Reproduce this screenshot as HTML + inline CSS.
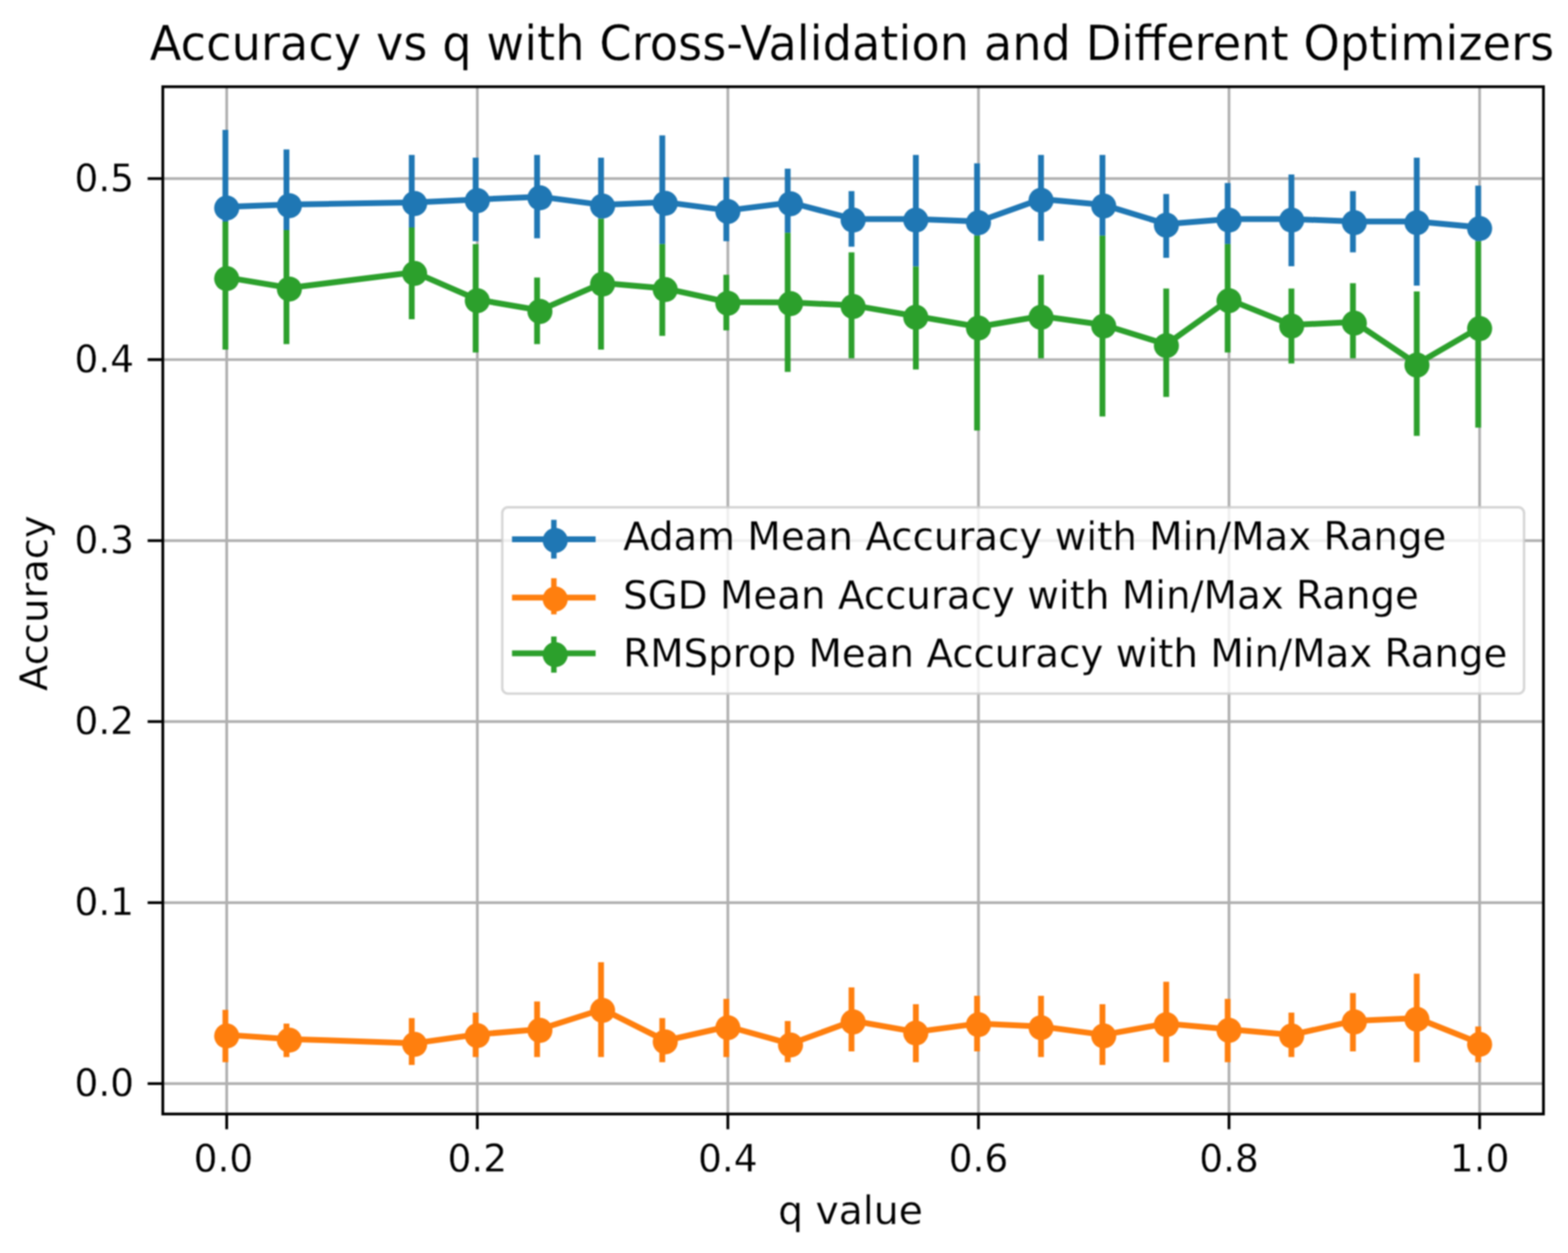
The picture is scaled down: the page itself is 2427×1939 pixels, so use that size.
<!DOCTYPE html>
<html><head><meta charset="utf-8"><title>Accuracy vs q with Cross-Validation and Different Optimizers</title>
<style>html,body{margin:0;padding:0;background:#fff;}svg{display:block;filter:blur(0.8px);}text{font-family:"DejaVu Sans","Liberation Sans",sans-serif;fill:#000;stroke:#fff;stroke-width:0.3px;paint-order:fill;}</style></head><body>
<svg width="2427" height="1939" viewBox="0 0 2427 1939">
<rect x="0" y="0" width="2427" height="1939" fill="#ffffff"/>
<path d="M350.9 134.2V1723.9M738.8 134.2V1723.9M1126.6 134.2V1723.9M1514.5 134.2V1723.9M1902.3 134.2V1723.9M2290.2 134.2V1723.9M252.0 1676.9H2389.0M252.0 1396.8H2389.0M252.0 1116.7H2389.0M252.0 836.6H2389.0M252.0 556.5H2389.0M252.0 276.4H2389.0" stroke="#b0b0b0" stroke-width="4.2" fill="none"/>
<path d="M348.9 201.1V343.0M443.4 231.3V356.0M637.3 239.8V352.1M736.2 244.0V373.3M831.3 239.8V368.7M930.3 244.0V338.5M1025.1 209.6V377.8M1124.2 274.2V373.3M1219.2 260.9V360.3M1318.0 295.7V381.7M1417.6 239.8V412.5M1512.3 252.8V364.8M1611.3 239.8V372.7M1706.4 239.8V364.8M1805.1 300.2V398.9M1900.2 283.3V377.8M1998.9 270.0V411.9M2094.1 295.7V390.5M2192.9 244.0V442.1M2288.0 287.2V373.3" stroke="#1f77b4" stroke-width="9.0" fill="none" stroke-linecap="butt"/>
<path d="M348.9 1562.7V1643.8M443.4 1584.1V1635.7M637.3 1575.6V1648.0M736.2 1566.9V1635.7M831.3 1549.7V1635.7M930.3 1489.0V1635.7M1025.1 1575.6V1643.8M1124.2 1545.8V1635.7M1219.2 1579.9V1643.8M1318.0 1527.9V1627.0M1417.6 1553.9V1643.8M1512.3 1540.9V1627.0M1611.3 1540.9V1635.7M1706.4 1553.9V1648.0M1805.1 1519.2V1643.8M1900.2 1545.8V1643.8M1998.9 1566.9V1635.7M2094.1 1536.7V1627.0M2192.9 1506.8V1643.8M2288.0 1588.6V1643.8" stroke="#ff7f0e" stroke-width="9.0" fill="none" stroke-linecap="butt"/>
<path d="M348.9 343.0V540.9M443.4 356.0V532.4M637.3 352.1V494.0M736.2 377.8V545.4M831.3 429.4V532.4M930.3 338.5V540.9M1025.1 377.8V519.7M1124.2 425.2V511.3M1219.2 360.3V575.6M1318.0 390.5V554.5M1417.6 412.5V571.7M1512.3 364.8V666.2M1611.3 425.2V554.5M1706.4 364.8V644.4M1805.1 446.6V614.3M1900.2 377.8V545.4M1998.9 446.6V562.6M2094.1 438.2V554.5M2192.9 450.9V674.6M2288.0 373.3V661.7" stroke="#2ca02c" stroke-width="9.0" fill="none" stroke-linecap="butt"/>
<polyline points="350.9,320.1 447.9,316.5 641.8,313.2 738.8,308.7 835.7,304.4 932.7,317.1 1029.7,312.9 1126.6,325.6 1223.6,313.5 1320.5,338.9 1417.5,338.9 1514.5,342.8 1611.4,308.1 1708.4,317.1 1805.4,346.7 1902.3,338.9 1999.3,338.9 2096.3,342.8 2193.2,342.8 2290.2,351.8" stroke="#1f77b4" stroke-width="9.0" fill="none" stroke-linejoin="round" stroke-linecap="square"/>
<g fill="#1f77b4"><circle cx="350.9" cy="321.9" r="19.4"/><circle cx="447.9" cy="318.3" r="19.4"/><circle cx="641.8" cy="315.0" r="19.4"/><circle cx="738.8" cy="310.5" r="19.4"/><circle cx="835.7" cy="306.2" r="19.4"/><circle cx="932.7" cy="318.9" r="19.4"/><circle cx="1029.7" cy="314.7" r="19.4"/><circle cx="1126.6" cy="327.4" r="19.4"/><circle cx="1223.6" cy="315.3" r="19.4"/><circle cx="1320.5" cy="340.7" r="19.4"/><circle cx="1417.5" cy="340.7" r="19.4"/><circle cx="1514.5" cy="344.6" r="19.4"/><circle cx="1611.4" cy="309.9" r="19.4"/><circle cx="1708.4" cy="318.9" r="19.4"/><circle cx="1805.4" cy="348.5" r="19.4"/><circle cx="1902.3" cy="340.7" r="19.4"/><circle cx="1999.3" cy="340.7" r="19.4"/><circle cx="2096.3" cy="344.6" r="19.4"/><circle cx="2193.2" cy="344.6" r="19.4"/><circle cx="2290.2" cy="353.6" r="19.4"/></g>
<polyline points="350.9,1601.4 447.9,1607.9 641.8,1614.4 738.8,1600.8 835.7,1592.7 932.7,1561.8 1029.7,1610.5 1126.6,1588.5 1223.6,1615.4 1320.5,1579.7 1417.5,1596.9 1514.5,1583.9 1611.4,1588.5 1708.4,1601.4 1805.4,1583.9 1902.3,1592.7 1999.3,1601.4 2096.3,1579.7 2193.2,1575.5 2290.2,1614.4" stroke="#ff7f0e" stroke-width="9.0" fill="none" stroke-linejoin="round" stroke-linecap="square"/>
<g fill="#ff7f0e"><circle cx="350.9" cy="1603.2" r="19.4"/><circle cx="447.9" cy="1609.7" r="19.4"/><circle cx="641.8" cy="1616.2" r="19.4"/><circle cx="738.8" cy="1602.6" r="19.4"/><circle cx="835.7" cy="1594.5" r="19.4"/><circle cx="932.7" cy="1563.6" r="19.4"/><circle cx="1029.7" cy="1612.3" r="19.4"/><circle cx="1126.6" cy="1590.3" r="19.4"/><circle cx="1223.6" cy="1617.2" r="19.4"/><circle cx="1320.5" cy="1581.5" r="19.4"/><circle cx="1417.5" cy="1598.7" r="19.4"/><circle cx="1514.5" cy="1585.7" r="19.4"/><circle cx="1611.4" cy="1590.3" r="19.4"/><circle cx="1708.4" cy="1603.2" r="19.4"/><circle cx="1805.4" cy="1585.7" r="19.4"/><circle cx="1902.3" cy="1594.5" r="19.4"/><circle cx="1999.3" cy="1603.2" r="19.4"/><circle cx="2096.3" cy="1581.5" r="19.4"/><circle cx="2193.2" cy="1577.3" r="19.4"/><circle cx="2290.2" cy="1616.2" r="19.4"/></g>
<polyline points="350.9,429.4 447.9,445.5 641.8,421.3 738.8,463.6 835.7,480.2 932.7,437.9 1029.7,446.4 1126.6,467.5 1223.6,468.1 1320.5,472.6 1417.5,489.2 1514.5,505.8 1611.4,489.2 1708.4,502.8 1805.4,533.0 1902.3,463.6 1999.3,502.8 2096.3,498.3 2193.2,563.2 2290.2,506.7" stroke="#2ca02c" stroke-width="9.0" fill="none" stroke-linejoin="round" stroke-linecap="square"/>
<g fill="#2ca02c"><circle cx="350.9" cy="431.2" r="19.4"/><circle cx="447.9" cy="447.3" r="19.4"/><circle cx="641.8" cy="423.1" r="19.4"/><circle cx="738.8" cy="465.4" r="19.4"/><circle cx="835.7" cy="482.0" r="19.4"/><circle cx="932.7" cy="439.7" r="19.4"/><circle cx="1029.7" cy="448.2" r="19.4"/><circle cx="1126.6" cy="469.3" r="19.4"/><circle cx="1223.6" cy="469.9" r="19.4"/><circle cx="1320.5" cy="474.4" r="19.4"/><circle cx="1417.5" cy="491.0" r="19.4"/><circle cx="1514.5" cy="507.6" r="19.4"/><circle cx="1611.4" cy="491.0" r="19.4"/><circle cx="1708.4" cy="504.6" r="19.4"/><circle cx="1805.4" cy="534.8" r="19.4"/><circle cx="1902.3" cy="465.4" r="19.4"/><circle cx="1999.3" cy="504.6" r="19.4"/><circle cx="2096.3" cy="500.1" r="19.4"/><circle cx="2193.2" cy="565.0" r="19.4"/><circle cx="2290.2" cy="508.5" r="19.4"/></g>
<rect x="252.0" y="134.2" width="2137.0" height="1589.7" fill="none" stroke="#000" stroke-width="4.3" stroke-linejoin="miter"/>
<path d="M350.9 1723.9v23.5M738.8 1723.9v23.5M1126.6 1723.9v23.5M1514.5 1723.9v23.5M1902.3 1723.9v23.5M2290.2 1723.9v23.5M252.0 1676.9h-23.5M252.0 1396.8h-23.5M252.0 1116.7h-23.5M252.0 836.6h-23.5M252.0 556.5h-23.5M252.0 276.4h-23.5" stroke="#000" stroke-width="4.3" fill="none"/>
<text x="345.9" y="1812.5" font-size="58" text-anchor="middle">0.0</text>
<text x="738.8" y="1812.5" font-size="58" text-anchor="middle">0.2</text>
<text x="1126.6" y="1812.5" font-size="58" text-anchor="middle">0.4</text>
<text x="1514.5" y="1812.5" font-size="58" text-anchor="middle">0.6</text>
<text x="1902.3" y="1812.5" font-size="58" text-anchor="middle">0.8</text>
<text x="2290.2" y="1812.5" font-size="58" text-anchor="middle">1.0</text>
<text x="207.5" y="1696.2" font-size="58" text-anchor="end">0.0</text>
<text x="207.5" y="1416.1" font-size="58" text-anchor="end">0.1</text>
<text x="207.5" y="1136.0" font-size="58" text-anchor="end">0.2</text>
<text x="207.5" y="855.9" font-size="58" text-anchor="end">0.3</text>
<text x="207.5" y="575.8" font-size="58" text-anchor="end">0.4</text>
<text x="207.5" y="295.7" font-size="58" text-anchor="end">0.5</text>
<text x="1316.4" y="1894" font-size="60.8" text-anchor="middle">q value</text>
<text transform="translate(72.7,933.3) rotate(-90)" x="0" y="0" font-size="59.5" text-anchor="middle">Accuracy</text>
<text transform="translate(231.8,93.4) scale(1,1.045)" font-size="71.7">Accuracy vs q with Cross-Validation and Different Optimizers</text>
<rect x="777.4" y="785" width="1581.6" height="288.4" rx="9" ry="9" fill="#ffffff" fill-opacity="0.8" stroke="#cccccc" stroke-opacity="0.8" stroke-width="3.8"/>
<path d="M857.3 804.4V864.4" stroke="#1f77b4" stroke-width="8.4" fill="none"/>
<path d="M792.5 834.5H921.9" stroke="#1f77b4" stroke-width="9.0" fill="none"/>
<circle cx="859.4" cy="836.4" r="19.4" fill="#1f77b4"/>
<text x="964.5" y="851.2" font-size="60">Adam Mean Accuracy with Min/Max Range</text>
<path d="M857.3 894.8V950.7" stroke="#ff7f0e" stroke-width="8.4" fill="none"/>
<path d="M792.5 924.7H921.9" stroke="#ff7f0e" stroke-width="9.0" fill="none"/>
<circle cx="859.4" cy="927.0" r="19.4" fill="#ff7f0e"/>
<text x="964.5" y="941.9" font-size="60">SGD Mean Accuracy with Min/Max Range</text>
<path d="M857.3 985.0V1040.9" stroke="#2ca02c" stroke-width="8.4" fill="none"/>
<path d="M792.5 1011.0H921.9" stroke="#2ca02c" stroke-width="9.0" fill="none"/>
<circle cx="859.4" cy="1013.2" r="19.4" fill="#2ca02c"/>
<text x="964.5" y="1032.0" font-size="60">RMSprop Mean Accuracy with Min/Max Range</text>
</svg></body></html>
